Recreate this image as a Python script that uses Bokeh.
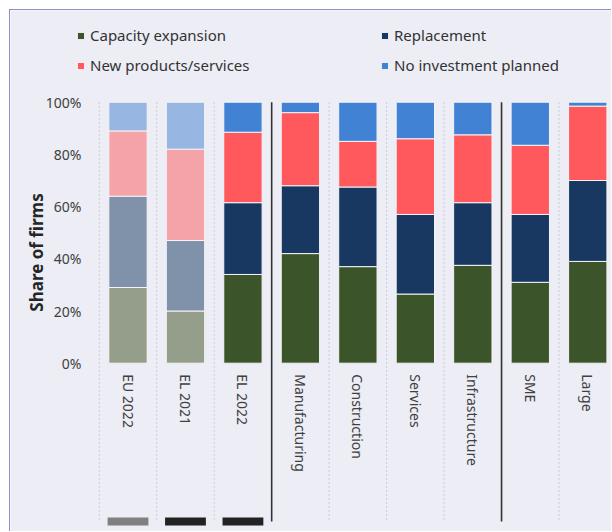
import numpy as np
from bokeh.plotting import figure
from bokeh.models import (Range1d, FixedTicker, LinearAxis, Legend, LegendItem,
                          ColumnDataSource, PrintfTickFormatter)
from bokeh.core.properties import value
from bokeh.embed import file_html
from bokeh.resources import INLINE

# ---------------- data ----------------
categories = ["EU 2022", "EL 2021", "EL 2022", "Manufacturing", "Construction",
              "Services", "Infrastructure", "SME", "Large"]
series_names = ["Capacity expansion", "Replacement", "New products/services",
                "No investment planned"]
capacity = [29, 20, 34, 42, 37, 26.5, 37.5, 31, 39]
replacement = [35, 27, 27.5, 26, 30.5, 30.5, 24, 26, 31]
new_products = [25, 35, 27, 28, 17.5, 29, 26, 26.5, 28.5]
no_investment = [11, 18, 11.5, 4, 15, 14, 12.5, 16.5, 1.5]
group_sizes = [3, 4, 2]             # EU/EL | sectors | firm size
faded_bars = ["EU 2022", "EL 2021"]  # drawn with pale colours
y_ticks = [0, 20, 40, 60, 80, 100]
footer_colors = ["#808080", "#222222", "#222222"]

# ---------------- style ----------------
main_colors = ["#3C5429", "#183862", "#FF585D", "#4282D4"]
pale_colors = ["#949E8A", "#8091AA", "#F4A4A9", "#97B7E2"]
BG = "#ECEDF5"
TXT = "#404040"
FONT = "Noto Sans"

W, H = 602, 522
# pixel geometry (relative to figure)
OX, OY = 10, 10                   # figure offset in page
X0_PX, DX_PX = 127.5 - OX, 57.47   # centre of first category, spacing
Y0_PX, DY_PX = 362.7 - OY, 2.61    # y=0 pixel, px per unit


def px_x(px):
    return (px - X0_PX) / DX_PX


def px_y(py):
    return (Y0_PX - py) / DY_PX


p = figure(width=W, height=H, output_backend="svg", toolbar_location=None,
           x_range=Range1d(px_x(0), px_x(W)), y_range=Range1d(px_y(H), px_y(0)),
           x_axis_type=None, y_axis_type=None, min_border=0,
           background_fill_color=BG, border_fill_color=BG, outline_line_color=None)
p.margin = (9, 0, 0, 9)
p.styles = {"border-left": "1px solid #8E8ECC", "border-top": "1px solid #8E8ECC"}

xs = np.arange(len(categories))
stack = np.array([capacity, replacement, new_products, no_investment], dtype=float)
tops = np.cumsum(stack, axis=0)
bottoms = tops - stack

renderers = []
for k, name in enumerate(series_names):
    cols = [pale_colors[k] if c in faded_bars else main_colors[k] for c in categories]
    src = ColumnDataSource(dict(x=xs, top=tops[k], bottom=bottoms[k], color=cols))
    r = p.vbar(x="x", top="top", bottom="bottom", width=0.667, source=src,
               fill_color="color", line_color="#F4F4F8", line_width=1)
    renderers.append(r)

# separators
bounds = np.arange(len(categories) + 1) - 0.5
solid = np.cumsum(group_sizes)[:-1] - 0.5
dotted = [b for b in bounds if not np.any(np.isclose(b, solid))]
y_bot = px_y(521 - OY)
p.segment(x0=dotted, x1=dotted, y0=[100] * len(dotted), y1=[y_bot] * len(dotted),
          line_color="#CBCBD6", line_width=1, line_dash="2 2")
p.segment(x0=solid, x1=solid, y0=[100] * len(solid), y1=[y_bot] * len(solid),
          line_color="#333333", line_width=1.6)

# footer swatches under first three categories
p.vbar(x=xs[:len(footer_colors)], bottom=px_y(525 - OY), top=px_y(517 - OY),
       width=0.71, fill_color=footer_colors, line_color=None)

# axes
yax = LinearAxis(ticker=FixedTicker(ticks=y_ticks),
                 formatter=PrintfTickFormatter(format="%d%%"))
yax.fixed_location = px_x(88 - OX)
yax.axis_line_color = None
yax.major_tick_line_color = None
yax.minor_tick_line_color = None
yax.major_label_standoff = 1
yax.major_label_text_font = FONT
yax.major_label_text_font_size = "14px"
yax.major_label_text_color = TXT
p.add_layout(yax, "left")

xax = LinearAxis(ticker=FixedTicker(ticks=list(xs)),
                 major_label_overrides={int(i): c for i, c in zip(xs, categories)})
xax.fixed_location = 0
xax.axis_line_color = None
xax.major_tick_line_color = None
xax.minor_tick_line_color = None
xax.major_label_orientation = "vertical"
xax.major_label_standoff = 5
xax.major_label_text_font = FONT
xax.major_label_text_font_size = "14px"
xax.major_label_text_color = TXT
p.add_layout(xax, "below")

# y-axis title
p.text(x=[px_x(36 - OX)], y=[px_y(252 - OY)], text=["Share of firms"], angle=np.pi / 2,
       text_align="center", text_baseline="middle", text_font=value(FONT),
       text_font_style="bold", text_font_size="17px", text_color="#262626")

# legend: two columns, filled column by column
legend_order = [0, 2, 1, 3]
legend = Legend(items=[LegendItem(label=series_names[k], renderers=[renderers[k]], index=2)
                       for k in legend_order],
                ncols=2, location=(66, H - 15 - 50),
                background_fill_alpha=0, border_line_color=None, padding=0, margin=0,
                spacing=10, label_standoff=5, glyph_width=9, glyph_height=9,
                label_height=20, label_width=280, label_text_font=FONT,
                label_text_font_size="15px", label_text_color="#333333")
p.add_layout(legend)

open("out.html", "w").write(file_html(p, INLINE))
